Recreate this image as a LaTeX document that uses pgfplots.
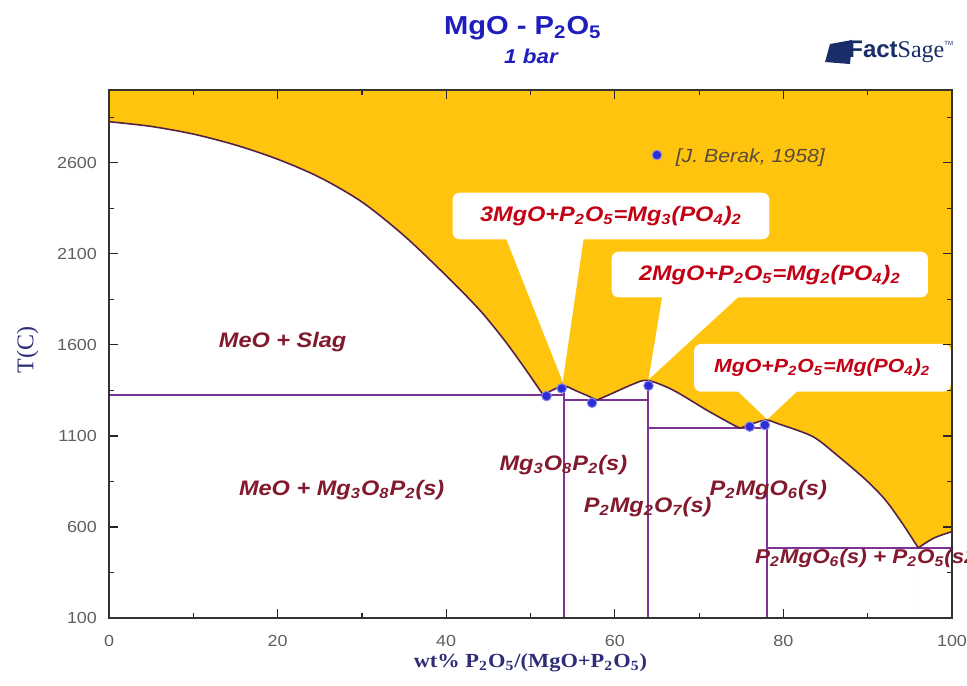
\documentclass[border=0pt]{standalone}
\usepackage{pgfplots}
\pgfplotsset{compat=1.18}
\usepackage{fontspec}
\setmainfont{Liberation Sans}
\newfontfamily\serif{Liberation Serif}
\usepackage{graphicx}
\definecolor{fsyellow}{RGB}{255,196,14}
\definecolor{liq}{RGB}{85,35,65}
\definecolor{phl}{RGB}{125,50,150}
\definecolor{calltxt}{RGB}{195,0,20}
\definecolor{phase}{RGB}{130,25,45}
\definecolor{ttl}{RGB}{30,30,190}
\definecolor{navy}{RGB}{45,45,120}
\definecolor{logonavy}{RGB}{25,45,105}
\definecolor{tickgray}{RGB}{95,95,95}
\definecolor{ptblue}{RGB}{45,45,215}
\definecolor{refgray}{RGB}{90,75,60}
\newcommand{\hs}[1]{\scalebox{1.12}[1]{#1}}
\newcommand{\s}[1]{\textsubscript{#1}}
\pgfplotstableread{
x T
0 2826
5 2800
10 2758
15 2698
20 2620
25 2520
30 2385
35 2200
40 1980
44 1790
47 1620
49.5 1460
51.5 1325
}\segA
\pgfplotstableread{
x T
51.5 1325
52.8 1356
54.0 1375
55.3 1350
56.7 1322
57.9 1297
}\segB
\pgfplotstableread{
x T
57.9 1297
59.8 1336
62.2 1385
63.9 1405
66.9 1352
70.9 1242
74.0 1162
74.9 1143
}\segC
\pgfplotstableread{
x T
74.9 1143
76.5 1170
78.0 1187
79.5 1165
83.5 1096
86.6 985
89.8 858
92.1 748
94.1 620
96.0 485
}\segD
\pgfplotstableread{
x T
96.0 485
97.8 538
100 575
}\segE
\begin{document}
\begin{tikzpicture}
\begin{axis}[
  at={(0pt,0pt)}, anchor=south west,
  scale only axis, width=421.5pt, height=264pt,
  xmin=0, xmax=100, ymin=100, ymax=3000,
  clip=false, axis on top,
  xtick={0,20,40,60,80,100},
  xticklabels={\hs{0},\hs{20},\hs{40},\hs{60},\hs{80},\hs{100}},
  minor xtick={10,30,50,70,90},
  ytick={100,600,1100,1600,2100,2600},
  yticklabels={\hs{100},\hs{600},\hs{1100},\hs{1600},\hs{2100},\hs{2600}},
  minor ytick={350,850,1350,1850,2350,2850},
  tick align=inside, major tick length=4.5pt, minor tick length=2.5pt,
  every tick/.style={black!85, line width=0.6pt},
  axis line style={line width=0.8pt, black!80},
  ticklabel style={font=\fontsize{8}{9}\selectfont, text=tickgray},
  xticklabel style={yshift=-5pt},
  yticklabel style={xshift=-2.5pt},
  xlabel={\hs{\serif\bfseries wt\% P\s{2}O\s{5}/(MgO+P\s{2}O\s{5})}},
  xlabel style={at={(axis description cs:0.5,-0.0852)}, anchor=center, font=\fontsize{10}{12}\selectfont, text=navy},
  ylabel={\serif T(C)},
  ylabel style={at={(axis description cs:-0.0965,0.508)}, anchor=center, font=\fontsize{12}{14}\selectfont, text=navy},
  wfill/.style={fill=white, draw=white, line width=0.4pt, smooth, tension=0.5},
  lq/.style={liq, line width=0.8pt, smooth, tension=0.5},
]
% liquid region: yellow everywhere, solids region white below the liquidus
\addplot[fill=fsyellow, draw=none] coordinates {(0,100) (100,100) (100,3000) (0,3000)};
\addplot[wfill] table {\segA} \closedcycle;
\addplot[wfill] table {\segB} \closedcycle;
\addplot[wfill] table {\segC} \closedcycle;
\addplot[wfill] table {\segD} \closedcycle;
\addplot[wfill] table {\segE} \closedcycle;
% invariant lines and compound lines
\addplot[phl, line width=1pt] coordinates {(0,1325) (54.0,1325)};
\addplot[phl, line width=1pt] coordinates {(54.0,1297) (63.9,1297)};
\addplot[phl, line width=1pt] coordinates {(63.9,1143) (78.0,1143)};
\addplot[phl, line width=1pt] coordinates {(78.0,485) (100,485)};
\addplot[phl, line width=1pt] coordinates {(54.0,100) (54.0,1375)};
\addplot[phl, line width=1pt] coordinates {(63.9,100) (63.9,1405)};
\addplot[phl, line width=1pt] coordinates {(78.0,100) (78.0,1187)};
% liquidus
\addplot[lq] table {\segA};
\addplot[lq] table {\segB};
\addplot[lq] table {\segC};
\addplot[lq] table {\segD};
\addplot[lq] table {\segE};
% callouts
\fill[white, rounded corners=3.5pt] (axis cs:40.77,2180) rectangle (axis cs:78.33,2436);
\fill[white] (axis cs:46.97,2200) -- (axis cs:56.35,2200) -- (axis cs:53.82,1398) -- cycle;
\node[font=\fontsize{10.5}{12}\selectfont\bfseries\itshape, text=calltxt] at (axis cs:59.55,2308)
 {\hs{3MgO+P\s{2}O\s{5}=Mg\s{3}(PO\s{4})\s{2}}};
\fill[white, rounded corners=3.5pt] (axis cs:59.63,1861) rectangle (axis cs:97.15,2112);
\fill[white] (axis cs:65.68,1880) -- (axis cs:75.05,1880) -- (axis cs:64.0,1410) -- cycle;
\node[font=\fontsize{10.5}{12}\selectfont\bfseries\itshape, text=calltxt] at (axis cs:78.4,1986)
 {\hs{2MgO+P\s{2}O\s{5}=Mg\s{2}(PO\s{4})\s{2}}};
\fill[white, rounded corners=3.5pt] (axis cs:69.4,1343) rectangle (axis cs:99.85,1605);
\fill[white] (axis cs:74.26,1360) -- (axis cs:81.97,1360) -- (axis cs:78.09,1191) -- cycle;
\node[font=\fontsize{9.5}{11}\selectfont\bfseries\itshape, text=calltxt] at (axis cs:84.6,1474)
 {\hs{MgO+P\s{2}O\s{5}=Mg(PO\s{4})\s{2}}};
% experimental points
\addplot[only marks, mark=*, mark size=2.4pt, mark options={fill=ptblue, draw=ptblue!55!white, line width=0.5pt}]
 coordinates {(51.9,1319) (53.7,1361) (57.3,1282) (64.0,1376) (76.0,1151) (77.8,1160)};
\addplot[only marks, mark=*, mark size=2.4pt, mark options={fill=ptblue, draw=ptblue!55!white, line width=0.5pt}]
 coordinates {(65.0,2643)};
\node[anchor=base west, font=\fontsize{9.5}{11}\selectfont\itshape, text=refgray] at (axis cs:66.4,2600)
 {\hs{[J. Berak, 1958]}};
% phase labels
\tikzset{ph/.style={font=\fontsize{10.5}{12}\selectfont\bfseries\itshape, text=phase}}
\node[ph] at (axis cs:20.6,1616) {\hs{MeO + Slag}};
\node[ph] at (axis cs:27.6,803) {\hs{MeO + Mg\s{3}O\s{8}P\s{2}(s)}};
\node[ph] at (axis cs:53.9,940) {\hs{Mg\s{3}O\s{8}P\s{2}(s)}};
\node[ph] at (axis cs:63.9,710) {\hs{P\s{2}Mg\s{2}O\s{7}(s)}};
\node[ph] at (axis cs:78.2,803) {\hs{P\s{2}MgO\s{6}(s)}};
\node[ph, font=\fontsize{10}{12}\selectfont\bfseries\itshape, anchor=west, inner sep=0pt, overlay] at (axis cs:76.6,430)
 {\hs{P\s{2}MgO\s{6}(s) + P\s{2}O\s{5}(s2)}};
% titles
\node[anchor=base, font=\fontsize{13}{15}\selectfont\bfseries, text=ttl] at (axis description cs:0.491,1.106)
 {\hs{MgO - P\s{2}O\s{5}}};
\node[anchor=base, font=\fontsize{10}{12}\selectfont\bfseries\itshape, text=ttl] at (axis description cs:0.5006,1.051)
 {\hs{1 bar}};
% FactSage logo
\fill[logonavy] (axis description cs:0.8494,1.053) -- (axis description cs:0.8553,1.0871)
 -- (axis description cs:0.8814,1.0947) -- (axis description cs:0.8790,1.0492) -- cycle;
\node[anchor=west, inner sep=0pt, text=logonavy] at (axis description cs:0.8766,1.072)
 {{\fontsize{12}{13}\selectfont\bfseries Fact}{\serif\fontsize{12}{13}\selectfont Sage}\raisebox{1.2ex}{\fontsize{3}{3}\selectfont TM}};
\end{axis}
\pgfresetboundingbox
\path[use as bounding box] (-54.5pt,-33.5pt) rectangle (429pt,309pt);
\end{tikzpicture}
\end{document}
